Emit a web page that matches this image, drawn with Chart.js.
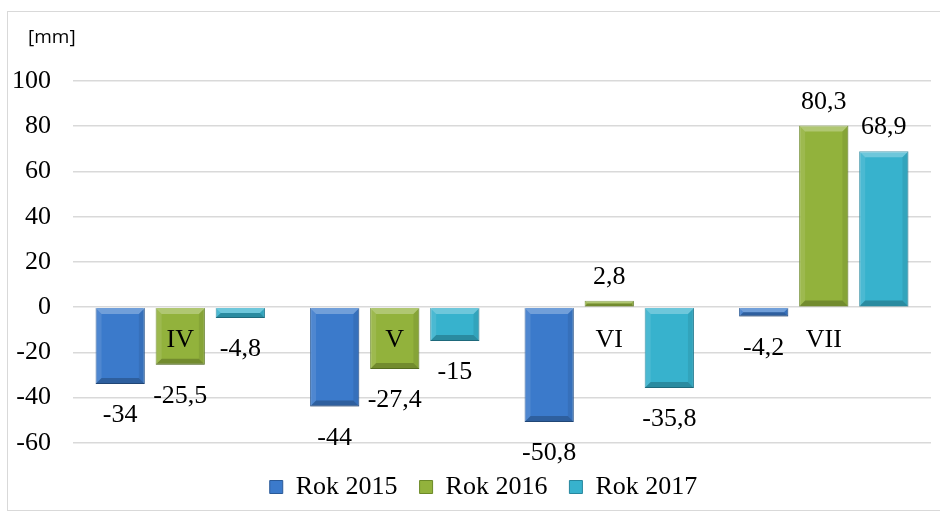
<!DOCTYPE html>
<html>
<head>
<meta charset="utf-8">
<script src="https://cdn.jsdelivr.net/npm/chart.js@4/dist/chart.umd.min.js"></script>
<style>
  body { margin: 0; background: #fff; }
  #box {
    position: absolute; left: 7px; top: 11px;
    width: 932px; height: 498px;
    border: 1px solid #d9d9d9;
  }
</style>
</head>
<body>
<div id="box"><canvas id="chart"></canvas></div>
<script>
// dane: odchylenia opadów [mm]
const months = ['IV', 'V', 'VI', 'VII'];
const rok2015 = [-34, -44, -50.8, -4.2];
const rok2016 = [-25.5, -27.4, 2.8, 80.3];
const rok2017 = [-4.8, -15, -35.8, 68.9];
const yTicks = { min: -60, max: 100, step: 20 };

const serif = "'Liberation Serif', 'Times New Roman', serif";
Chart.defaults.font.family = serif;
Chart.defaults.font.size = 26;
Chart.defaults.color = '#000';

// etykiety wartości nad / pod słupkami
const valueLabels = {
  id: 'valueLabels',
  afterDatasetsDraw(chart) {
    const ctx = chart.ctx;
    ctx.save();
    ctx.font = '26px ' + serif;
    ctx.fillStyle = '#000';
    ctx.textAlign = 'center';
    ctx.textBaseline = 'alphabetic';
    chart.data.datasets.forEach((ds, i) => {
      chart.getDatasetMeta(i).data.forEach((bar, j) => {
        const v = ds.data[j];
        const txt = String(v).replace('.', ',');
        if (v >= 0) {
          ctx.fillText(txt, bar.x, bar.y - 17);
        } else {
          ctx.fillText(txt, bar.x, bar.y + 38);
        }
      });
    });
    ctx.restore();
  }
};

// efekt fazowania krawędzi słupków
const bevel = {
  id: 'bevel',
  afterDatasetsDraw(chart) {
    const ctx = chart.ctx;
    ctx.save();
    chart.data.datasets.forEach((ds, i) => {
      chart.getDatasetMeta(i).data.forEach(bar => {
        const l = bar.x - bar.width / 2, r = bar.x + bar.width / 2;
        const t = Math.min(bar.y, bar.base), b = Math.max(bar.y, bar.base);
        const d = Math.min(6, (b - t) / 2);
        if (d <= 0) return;
        ctx.fillStyle = 'rgba(255,255,255,0.28)';
        ctx.beginPath();
        ctx.moveTo(l, t); ctx.lineTo(r, t); ctx.lineTo(r - d, t + d); ctx.lineTo(l + d, t + d);
        ctx.closePath(); ctx.fill();
        ctx.fillStyle = 'rgba(255,255,255,0.10)';
        ctx.beginPath();
        ctx.moveTo(l, t); ctx.lineTo(l + d, t + d); ctx.lineTo(l + d, b - d); ctx.lineTo(l, b);
        ctx.closePath(); ctx.fill();
        ctx.fillStyle = 'rgba(0,0,0,0.08)';
        ctx.beginPath();
        ctx.moveTo(r, t); ctx.lineTo(r - d, t + d); ctx.lineTo(r - d, b - d); ctx.lineTo(r, b);
        ctx.closePath(); ctx.fill();
        ctx.fillStyle = 'rgba(0,0,0,0.22)';
        ctx.beginPath();
        ctx.moveTo(l, b); ctx.lineTo(r, b); ctx.lineTo(r - d, b - d); ctx.lineTo(l + d, b - d);
        ctx.closePath(); ctx.fill();
      });
    });
    ctx.restore();
  }
};

// jednostka osi Y
const unitLabel = {
  id: 'unitLabel',
  afterDraw(chart) {
    const ctx = chart.ctx;
    ctx.save();
    ctx.font = "19px 'Open Sans', 'Noto Sans', sans-serif";
    ctx.fillStyle = '#000';
    ctx.textAlign = 'left';
    ctx.textBaseline = 'middle';
    ctx.fillText('[mm]', 20, 26);
    ctx.restore();
  }
};

// legenda przesunięta nieco w prawo, jak w oryginale
const legendShift = {
  id: 'legendShift',
  afterLayout(chart) {
    if (chart.legend) {
      chart.legend.left += 23;
      chart.legend.right += 23;
    }
  }
};

const barStyle = (fill, border) => ({
  backgroundColor: fill,
  borderColor: border,
  borderWidth: 1,
  categoryPercentage: 0.84,
  barPercentage: 0.82
});

new Chart(document.getElementById('chart'), {
  type: 'bar',
  data: {
    labels: months,
    datasets: [
      { label: 'Rok 2015', data: rok2015, ...barStyle('#3b7acb', '#2a5a98') },
      { label: 'Rok 2016', data: rok2016, ...barStyle('#92b23c', '#6c8a28') },
      { label: 'Rok 2017', data: rok2017, ...barStyle('#37b2cd', '#27879e') }
    ]
  },
  options: {
    responsive: true,
    maintainAspectRatio: false,
    animation: false,
    layout: { padding: { top: 69, left: -18, right: 9, bottom: 0 } },
    plugins: {
      legend: {
        position: 'bottom',
        title: { display: true, text: '', font: { size: 1 }, padding: { top: 8, bottom: 0 } },
        labels: {
          font: { family: serif, size: 26 },
          color: '#000',
          boxWidth: 13,
          boxHeight: 13,
          padding: 22
        }
      },
      tooltip: { enabled: false }
    },
    scales: {
      x: {
        position: { y: 0 },
        grid: { display: false },
        border: { display: false },
        ticks: {
          z: 1,
          font: { family: serif, size: 26 },
          color: '#000',
          padding: 9
        }
      },
      y: {
        min: yTicks.min,
        max: yTicks.max,
        ticks: {
          stepSize: yTicks.step,
          font: { family: serif, size: 26 },
          color: '#000',
          padding: 22
        },
        grid: { color: '#d9d9d9', lineWidth: 1.5, drawTicks: false },
        border: { display: false }
      }
    }
  },
  plugins: [valueLabels, bevel, unitLabel, legendShift]
});
</script>
</body>
</html>
